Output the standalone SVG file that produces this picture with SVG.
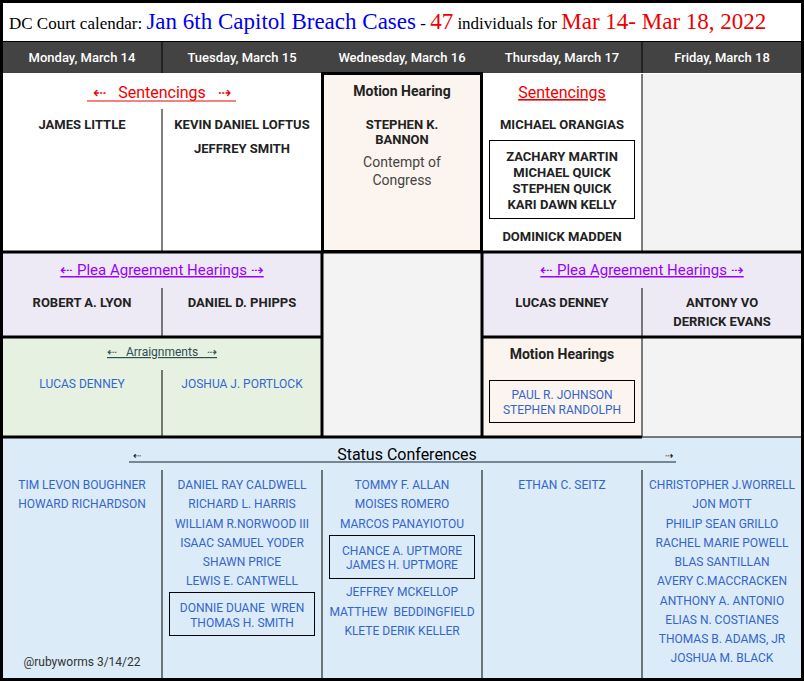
<svg xmlns="http://www.w3.org/2000/svg" width="804" height="681" viewBox="0 0 804 681">
<style>
text{font-family:Roboto,"Liberation Sans",sans-serif;text-anchor:middle}
.h{fill:#fff;font-size:13px;font-weight:500}
.b{fill:#222;font-size:13px;font-weight:700}
.u{fill:#3366cc;font-size:12px}
.t{font-family:"Liberation Serif",serif;text-anchor:start}
.thin{stroke:#000;stroke-width:1;fill:none}
.thick{stroke:#000;stroke-width:3;fill:none}
</style>
<rect x="0" y="0" width="804" height="681" fill="#fff"/>
<rect x="2" y="42" width="800" height="31" fill="#434343"/>
<rect x="322" y="74" width="160" height="178" fill="#fcf4ee"/>
<rect x="642" y="74" width="160" height="178" fill="#f3f3f3"/>
<rect x="2" y="252" width="320" height="85" fill="#eeeaf5"/>
<rect x="482" y="252" width="320" height="85" fill="#eeeaf5"/>
<rect x="322" y="252" width="160" height="185" fill="#f3f3f3"/>
<rect x="2" y="337" width="320" height="100" fill="#e7f1e2"/>
<rect x="482" y="337" width="160" height="100" fill="#fcf4ee"/>
<rect x="642" y="337" width="160" height="100" fill="#f3f3f3"/>
<rect x="2" y="437" width="800" height="242" fill="#dcebf8"/>
<g id="grid">
<line class="thin" x1="162" y1="42" x2="162" y2="73" stroke="#666"/>
<line class="thin" x1="642" y1="42" x2="642" y2="73"/>
<line class="thin" x1="2" y1="41.5" x2="802" y2="41.5"/>
<line class="thin" x1="162" y1="109" x2="162" y2="252"/>
<line class="thin" x1="642" y1="74" x2="642" y2="252"/>
<rect class="thick" x="322.5" y="73.5" width="159" height="178"/>
<line class="thick" x1="2" y1="252" x2="802" y2="252"/>
<line class="thin" x1="162" y1="288" x2="162" y2="337"/>
<line class="thin" x1="642" y1="288" x2="642" y2="337"/>
<line class="thick" x1="2" y1="337" x2="322" y2="337"/>
<line class="thick" x1="482" y1="337" x2="802" y2="337"/>
<line class="thick" x1="322" y1="252" x2="322" y2="437"/>
<line class="thick" x1="482" y1="252" x2="482" y2="437"/>
<line class="thin" x1="162" y1="370" x2="162" y2="437"/>
<line class="thin" x1="642" y1="337" x2="642" y2="437"/>
<line class="thick" x1="2" y1="437" x2="642" y2="437"/>
<line class="thin" x1="642" y1="437" x2="802" y2="437"/>
<line class="thin" x1="162" y1="470" x2="162" y2="679"/>
<line class="thin" x1="322" y1="470" x2="322" y2="679"/>
<line class="thin" x1="482" y1="470" x2="482" y2="679"/>
<line class="thin" x1="642" y1="470" x2="642" y2="679"/>
<rect x="1.5" y="1.5" width="801" height="678" fill="none" stroke="#000" stroke-width="3"/>
</g>
<text class="t" x="9" y="29" font-size="17" fill="#000">DC Court calendar: <tspan fill="#0000ee" font-size="23">Jan 6th Capitol Breach Cases</tspan> - <tspan fill="#ee0000" font-size="23">47</tspan> individuals for <tspan fill="#ee0000" font-size="23">Mar 14- Mar 18, 2022</tspan></text>
<text class="h" x="82" y="62">Monday, March 14</text>
<text class="h" x="242" y="62">Tuesday, March 15</text>
<text class="h" x="402" y="62">Wednesday, March 16</text>
<text class="h" x="562" y="62">Thursday, March 17</text>
<text class="h" x="722" y="62">Friday, March 18</text>
<text x="162" y="98" fill="#ee0000" font-size="16" xml:space="preserve">⇠   Sentencings   ⇢</text>
<line x1="87" y1="101" x2="236" y2="101" stroke="#ee0000" stroke-width="1"/>
<text class="b" x="82" y="129">JAMES LITTLE</text>
<text class="b" x="242" y="129">KEVIN DANIEL LOFTUS</text>
<text class="b" x="242" y="153">JEFFREY SMITH</text>
<text x="402" y="96" fill="#222" font-size="14" font-weight="700">Motion Hearing</text>
<text class="b" x="402" y="129">STEPHEN K.</text>
<text class="b" x="402" y="144">BANNON</text>
<text x="402" y="167" fill="#444" font-size="14">Contempt of</text>
<text x="402" y="185" fill="#444" font-size="14">Congress</text>
<text x="562" y="98" fill="#ee0000" font-size="16" text-decoration="underline">Sentencings</text>
<text class="b" x="562" y="129">MICHAEL ORANGIAS</text>
<rect class="thin" x="489.5" y="140.5" width="145" height="78"/>
<text class="b" x="562" y="161">ZACHARY MARTIN</text>
<text class="b" x="562" y="177">MICHAEL QUICK</text>
<text class="b" x="562" y="193">STEPHEN QUICK</text>
<text class="b" x="562" y="209">KARI DAWN KELLY</text>
<text class="b" x="562" y="241">DOMINICK MADDEN</text>
<text x="162" y="275" fill="#9900ff" font-size="15" text-decoration="underline">⇠ Plea Agreement Hearings ⇢</text>
<text class="b" x="82" y="307">ROBERT A. LYON</text>
<text class="b" x="242" y="307">DANIEL D. PHIPPS</text>
<text x="642" y="275" fill="#9900ff" font-size="15" text-decoration="underline">⇠ Plea Agreement Hearings ⇢</text>
<text class="b" x="562" y="307">LUCAS DENNEY</text>
<text class="b" x="722" y="307">ANTONY VO</text>
<text class="b" x="722" y="326">DERRICK EVANS</text>
<text x="162" y="356" fill="#2f4f4f" font-size="12" text-decoration="underline" xml:space="preserve">⇠   Arraignments   ⇢</text>
<text class="u" x="82" y="388">LUCAS DENNEY</text>
<text class="u" x="242" y="388">JOSHUA J. PORTLOCK</text>
<text x="562" y="359" fill="#222" font-size="14" font-weight="700">Motion Hearings</text>
<rect class="thin" x="489.5" y="380.5" width="145" height="42"/>
<text class="u" x="562" y="399">PAUL R. JOHNSON</text>
<text class="u" x="562" y="414">STEPHEN RANDOLPH</text>
<text x="137" y="459" fill="#000" font-size="10">⇠</text>
<text x="407" y="460" fill="#000" font-size="16">Status Conferences</text>
<text x="669" y="459" fill="#000" font-size="10">⇢</text>
<line x1="129" y1="462" x2="676" y2="462" stroke="#123" stroke-width="1"/>
<text class="u" x="82" y="489">TIM LEVON BOUGHNER</text>
<text class="u" x="82" y="508">HOWARD RICHARDSON</text>
<text x="82" y="666" fill="#333" font-size="12">@rubyworms 3/14/22</text>
<text class="u" x="242" y="489">DANIEL RAY CALDWELL</text>
<text class="u" x="242" y="508">RICHARD L. HARRIS</text>
<text class="u" x="242" y="528">WILLIAM R.NORWOOD III</text>
<text class="u" x="242" y="547">ISAAC SAMUEL YODER</text>
<text class="u" x="242" y="566">SHAWN PRICE</text>
<text class="u" x="242" y="585">LEWIS E. CANTWELL</text>
<rect class="thin" x="169.5" y="592.5" width="145" height="43"/>
<text class="u" x="242" y="612" xml:space="preserve">DONNIE DUANE  WREN</text>
<text class="u" x="242" y="627">THOMAS H. SMITH</text>
<text class="u" x="402" y="489">TOMMY F. ALLAN</text>
<text class="u" x="402" y="508">MOISES ROMERO</text>
<text class="u" x="402" y="528">MARCOS PANAYIOTOU</text>
<rect class="thin" x="329.5" y="535.5" width="145" height="43"/>
<text class="u" x="402" y="555">CHANCE A. UPTMORE</text>
<text class="u" x="402" y="569">JAMES H. UPTMORE</text>
<text class="u" x="402" y="596">JEFFREY MCKELLOP</text>
<text class="u" x="402" y="616" xml:space="preserve">MATTHEW  BEDDINGFIELD</text>
<text class="u" x="402" y="635">KLETE DERIK KELLER</text>
<text class="u" x="562" y="489">ETHAN C. SEITZ</text>
<text class="u" x="722" y="489">CHRISTOPHER J.WORRELL</text>
<text class="u" x="722" y="508">JON MOTT</text>
<text class="u" x="722" y="528">PHILIP SEAN GRILLO</text>
<text class="u" x="722" y="547">RACHEL MARIE POWELL</text>
<text class="u" x="722" y="566">BLAS SANTILLAN</text>
<text class="u" x="722" y="585">AVERY C.MACCRACKEN</text>
<text class="u" x="722" y="605">ANTHONY A. ANTONIO</text>
<text class="u" x="722" y="624">ELIAS N. COSTIANES</text>
<text class="u" x="722" y="643">THOMAS B. ADAMS, JR</text>
<text class="u" x="722" y="662">JOSHUA M. BLACK</text>
</svg>
